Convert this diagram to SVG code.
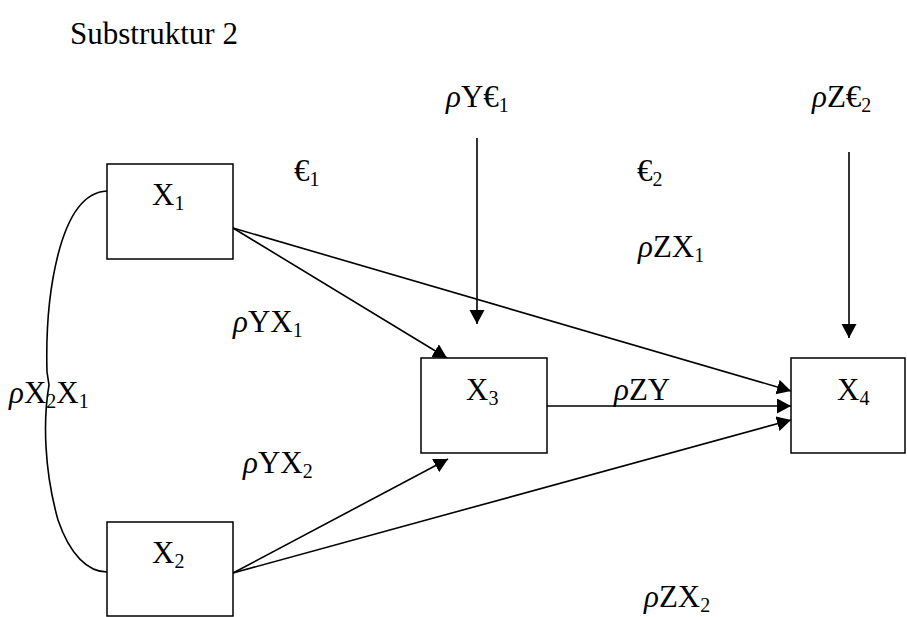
<svg xmlns="http://www.w3.org/2000/svg" width="907" height="617" viewBox="0 0 907 617">
<style>
text{font-family:'Liberation Serif','Times New Roman','DejaVu Serif',serif;font-size:31px;fill:#000}
.s{font-size:20px}
.r{font-style:italic}
.box{fill:#fff;stroke:#000;stroke-width:1.5}
.c{fill:none;stroke:#000;stroke-width:1.6}
</style>
<defs>
<marker id="ah" markerUnits="userSpaceOnUse" markerWidth="16" markerHeight="16" refX="14" refY="7.5" orient="auto">
<path d="M0,0 L14,7.5 L0,15 Z" fill="#000"/>
</marker>
</defs>
<rect width="907" height="617" fill="#fff"/>
<text x="70" y="44">Substruktur 2</text>
<g id="connectors">
<path class="c" d="M107,191 C58,193 45,300 47,372 L49,385 C43,420 44,470 58,520 C70,555 88,572 107,572"/>
<line class="c" x1="233" y1="228" x2="447" y2="358" marker-end="url(#ah)"/>
<line class="c" x1="233" y1="228" x2="791" y2="391" marker-end="url(#ah)"/>
<line class="c" x1="547" y1="406" x2="791" y2="406" marker-end="url(#ah)"/>
<line class="c" x1="233" y1="573" x2="448" y2="459" marker-end="url(#ah)"/>
<line class="c" x1="233" y1="573" x2="791" y2="420" marker-end="url(#ah)"/>
<line class="c" x1="477" y1="138" x2="477" y2="324" marker-end="url(#ah)"/>
<line class="c" x1="849" y1="152" x2="849" y2="338" marker-end="url(#ah)"/>
</g>
<g id="X1"><rect class="box" x="107" y="164" width="126" height="95"/><text x="152" y="205">X<tspan class="s" dy="5">1</tspan></text></g>
<g id="X2"><rect class="box" x="107" y="522" width="126" height="94"/><text x="152" y="563">X<tspan class="s" dy="5">2</tspan></text></g>
<g id="X3"><rect class="box" x="421" y="358" width="126" height="95"/><text x="466" y="400">X<tspan class="s" dy="5">3</tspan></text></g>
<g id="X4"><rect class="box" x="791" y="358" width="114" height="95"/><text x="837" y="400">X<tspan class="s" dy="5">4</tspan></text></g>
<g id="labels">
<text x="9" y="403"><tspan class="r">ρ</tspan>X<tspan class="s" dy="5">2</tspan><tspan dy="-5">X</tspan><tspan class="s" dy="5">1</tspan></text>
<text x="294" y="181">€<tspan class="s" dy="5">1</tspan></text>
<text x="637" y="181">€<tspan class="s" dy="5">2</tspan></text>
<text x="446" y="107"><tspan class="r">ρ</tspan>Y€<tspan class="s" dy="5">1</tspan></text>
<text x="812" y="107"><tspan class="r">ρ</tspan>Z€<tspan class="s" dy="5">2</tspan></text>
<text x="638" y="257"><tspan class="r">ρ</tspan>ZX<tspan class="s" dy="5">1</tspan></text>
<text x="233" y="332"><tspan class="r">ρ</tspan>YX<tspan class="s" dy="5">1</tspan></text>
<text x="243" y="473"><tspan class="r">ρ</tspan>YX<tspan class="s" dy="5">2</tspan></text>
<text x="614" y="400"><tspan class="r">ρ</tspan>ZY</text>
<text x="644" y="607"><tspan class="r">ρ</tspan>ZX<tspan class="s" dy="5">2</tspan></text>
</g>
</svg>
